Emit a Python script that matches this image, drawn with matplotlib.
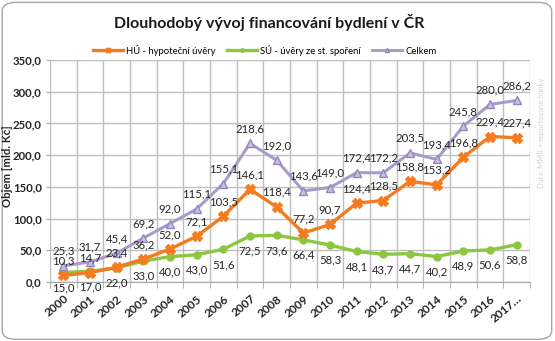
import matplotlib
matplotlib.use("Agg")
import matplotlib.pyplot as plt
from matplotlib.patches import FancyBboxPatch

plt.rcParams["font.family"] = ["Lato", "DejaVu Sans"]

years = ["2000", "2001", "2002", "2003", "2004", "2005", "2006", "2007", "2008",
         "2009", "2010", "2011", "2012", "2013", "2014", "2015", "2016", "2017…"]
hu = [10.3, 14.7, 23.4, 36.2, 52.0, 72.1, 103.5, 146.1, 118.4,
      77.2, 90.7, 124.4, 128.5, 158.8, 153.2, 196.8, 229.4, 227.4]
su = [15.0, 17.0, 22.0, 33.0, 40.0, 43.0, 51.6, 72.5, 73.6,
      66.4, 58.3, 48.1, 43.7, 44.7, 40.2, 48.9, 50.6, 58.8]
celkem = [25.3, 31.7, 45.4, 69.2, 92.0, 115.1, 155.1, 218.6, 192.0,
          143.6, 149.0, 172.4, 172.2, 203.5, 193.4, 245.8, 280.0, 286.2]
series_names = ["HÚ - hypoteční úvěry", "SÚ - úvěry ze st. spoření", "Celkem"]


def cz(v):
    return f"{v:.1f}".replace(".", ",")


fig = plt.figure(figsize=(5.55, 3.41), dpi=100)
ax = fig.add_axes([0.090, 0.173, 0.865, 0.651])

# rounded frame around the whole chart
fig.patches.append(FancyBboxPatch((0.004, 0.005), 0.990, 0.988,
                                  boxstyle="round,pad=0,rounding_size=0.025",
                                  transform=fig.transFigure, fc="white",
                                  ec="#A6A6A6", lw=1.0, zorder=-1))

x = list(range(len(years)))
ax.plot(x, hu, color="#F47B20", lw=2.4, marker="X", ms=7,
        mfc="#F47B20", mec="#F47B20", label=series_names[0], zorder=4)
ax.plot(x, su, color="#8DC63F", lw=2.4, marker="o", ms=5,
        mfc="#8DC63F", mec="#8DC63F", label=series_names[1], zorder=3)
ax.plot(x, celkem, color="#A99BCB", lw=2.2, marker="^", ms=6,
        mfc="#C9BFE0", mec="#9586BE", label=series_names[2], zorder=5)

# value labels sit on top of all lines
lab_kw = dict(textcoords="offset points", ha="center", va="center",
              fontsize=8.2, color="#262626", zorder=10)
for i in x:
    ax.annotate(cz(celkem[i]), (i, celkem[i]), xytext=(0, 10.5), **lab_kw)
    ax.annotate(cz(hu[i]), (i, hu[i]), xytext=(0, 10.5), **lab_kw)
    ax.annotate(cz(su[i]), (i, su[i]), xytext=(0, -11), **lab_kw)

ax.set_xlim(-0.5, len(years) - 0.5)
ax.set_ylim(0, 350)
ax.set_yticks(range(0, 351, 50))
ax.set_yticklabels([cz(v) for v in range(0, 351, 50)], fontsize=8.2,
                   fontweight="bold", color="#262626")
ax.set_xticks(x)
ax.set_xticklabels(years, rotation=40, ha="right", va="top",
                   rotation_mode="anchor", fontsize=8.6, fontweight="bold",
                   color="#262626")
ax.set_xticks([i - 0.5 for i in range(len(years) + 1)], minor=True)
ax.tick_params(axis="x", which="major", length=0, pad=8)
ax.tick_params(axis="x", which="minor", length=4, color="#A6A6A6", direction="out")
ax.tick_params(axis="y", length=3, color="#A6A6A6", pad=3)

ax.grid(True, which="major", axis="y", color="#BFBFBF", lw=1.0)
ax.grid(True, which="minor", axis="x", color="#BFBFBF", lw=1.0)
ax.set_axisbelow(True)
for side in ["top", "right", "left"]:
    ax.spines[side].set_visible(False)
ax.spines["bottom"].set_color("#A6A6A6")

ax.set_ylabel("Objem [mld. Kč]", fontsize=8.2, fontweight="bold",
              color="#262626", labelpad=2)
ax.yaxis.set_label_coords(-0.078, 0.52)

fig.text(0.485, 0.935, "Dlouhodobý vývoj financování bydlení v ČR",
         ha="center", va="center", fontsize=11.5, fontweight="bold", color="#1a1a1a")

fig.legend(loc="center", bbox_to_anchor=(0.477, 0.853), ncol=3, frameon=False,
           fontsize=6.8, handlelength=3.2, handletextpad=0.3, columnspacing=1.2,
           markerscale=0.5)

fig.text(0.975, 0.61, "Data: MMR + reportované banky", rotation=90,
         ha="center", va="center", fontsize=5.5, color="#D0D0D0")

fig.savefig("out.png", dpi=100)
